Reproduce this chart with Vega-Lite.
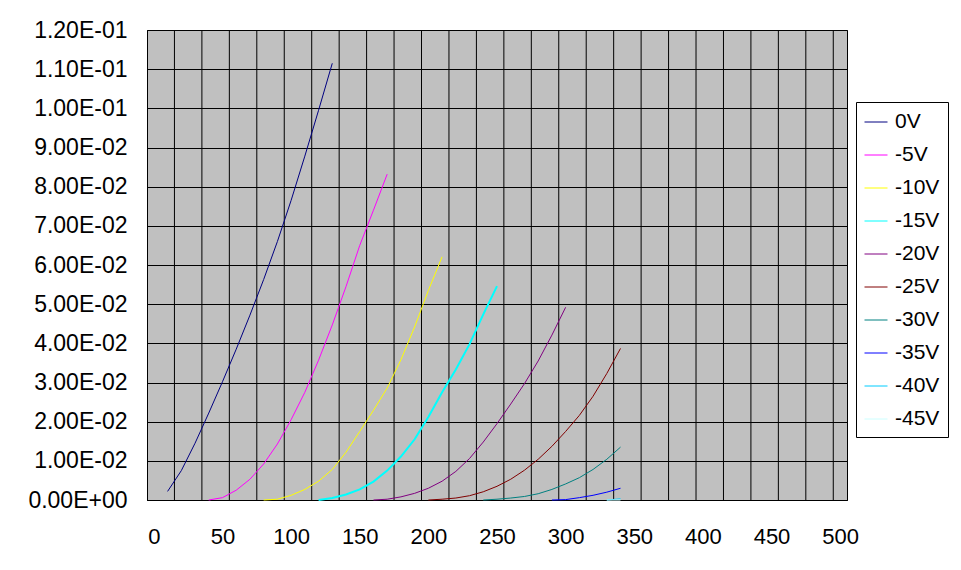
{
  "$schema": "https://vega.github.io/schema/vega-lite/v6.json",
  "width": 700,
  "height": 470,
  "autosize": {"type": "none"},
  "padding": {"left": 147, "top": 30, "right": 114, "bottom": 70},
  "background": "white",
  "config": {
    "view": {"fill": "#C0C0C0", "stroke": "black", "strokeWidth": 1},
    "font": "Liberation Sans",
    "axis": {"labelFont": "Liberation Sans", "labelColor": "black", "domainColor": "black", "domainWidth": 1, "ticks": false, "title": null, "labelFlush": false}
  },
  "datasets": {
    "grid": [
      {"V": 15}, {"V": 35}, {"V": 55}, {"V": 75}, {"V": 95}, {"V": 115}, {"V": 135}, {"V": 155}, {"V": 175}, {"V": 195},
      {"V": 215}, {"V": 235}, {"V": 255}, {"V": 275}, {"V": 295}, {"V": 315}, {"V": 335}, {"V": 355}, {"V": 375}, {"V": 395},
      {"V": 415}, {"V": 435}, {"V": 455}, {"V": 475}, {"V": 495}
    ],
    "curves": [
      {"s": "0V", "V": 10, "I": 0.0022}, {"s": "0V", "V": 20, "I": 0.0075}, {"s": "0V", "V": 30, "I": 0.0145}, {"s": "0V", "V": 40, "I": 0.0222},
      {"s": "0V", "V": 50, "I": 0.0302}, {"s": "0V", "V": 60, "I": 0.0385}, {"s": "0V", "V": 70, "I": 0.0472}, {"s": "0V", "V": 80, "I": 0.0563},
      {"s": "0V", "V": 90, "I": 0.066}, {"s": "0V", "V": 100, "I": 0.0765}, {"s": "0V", "V": 110, "I": 0.0878}, {"s": "0V", "V": 120, "I": 0.0995},
      {"s": "0V", "V": 130, "I": 0.1115},
      {"s": "-5V", "V": 40, "I": 0}, {"s": "-5V", "V": 50, "I": 0.0006}, {"s": "-5V", "V": 60, "I": 0.0025}, {"s": "-5V", "V": 70, "I": 0.0053},
      {"s": "-5V", "V": 80, "I": 0.0092}, {"s": "-5V", "V": 90, "I": 0.0143}, {"s": "-5V", "V": 100, "I": 0.0205}, {"s": "-5V", "V": 110, "I": 0.0275},
      {"s": "-5V", "V": 120, "I": 0.0357}, {"s": "-5V", "V": 130, "I": 0.0447}, {"s": "-5V", "V": 140, "I": 0.0545}, {"s": "-5V", "V": 150, "I": 0.065},
      {"s": "-5V", "V": 160, "I": 0.074}, {"s": "-5V", "V": 170, "I": 0.0832},
      {"s": "-10V", "V": 80, "I": 0}, {"s": "-10V", "V": 90, "I": 0.0002}, {"s": "-10V", "V": 100, "I": 0.0012}, {"s": "-10V", "V": 110, "I": 0.0027},
      {"s": "-10V", "V": 120, "I": 0.0048}, {"s": "-10V", "V": 130, "I": 0.0078}, {"s": "-10V", "V": 140, "I": 0.0122}, {"s": "-10V", "V": 150, "I": 0.0175},
      {"s": "-10V", "V": 160, "I": 0.0229}, {"s": "-10V", "V": 170, "I": 0.0286}, {"s": "-10V", "V": 180, "I": 0.0358}, {"s": "-10V", "V": 190, "I": 0.0442},
      {"s": "-10V", "V": 200, "I": 0.0535}, {"s": "-10V", "V": 210, "I": 0.0621},
      {"s": "-15V", "V": 120, "I": 0}, {"s": "-15V", "V": 130, "I": 0.0005}, {"s": "-15V", "V": 140, "I": 0.0014}, {"s": "-15V", "V": 150, "I": 0.0027},
      {"s": "-15V", "V": 160, "I": 0.0047}, {"s": "-15V", "V": 170, "I": 0.0075}, {"s": "-15V", "V": 180, "I": 0.0111}, {"s": "-15V", "V": 190, "I": 0.0155},
      {"s": "-15V", "V": 200, "I": 0.0212}, {"s": "-15V", "V": 210, "I": 0.0275}, {"s": "-15V", "V": 220, "I": 0.0333}, {"s": "-15V", "V": 230, "I": 0.0398},
      {"s": "-15V", "V": 240, "I": 0.0474}, {"s": "-15V", "V": 250, "I": 0.0546},
      {"s": "-20V", "V": 160, "I": 0}, {"s": "-20V", "V": 170, "I": 0.0002}, {"s": "-20V", "V": 180, "I": 0.0008}, {"s": "-20V", "V": 190, "I": 0.0017},
      {"s": "-20V", "V": 200, "I": 0.003}, {"s": "-20V", "V": 210, "I": 0.0048}, {"s": "-20V", "V": 220, "I": 0.0073}, {"s": "-20V", "V": 230, "I": 0.0106},
      {"s": "-20V", "V": 240, "I": 0.0148}, {"s": "-20V", "V": 250, "I": 0.0195}, {"s": "-20V", "V": 260, "I": 0.0245}, {"s": "-20V", "V": 270, "I": 0.0297},
      {"s": "-20V", "V": 280, "I": 0.0355}, {"s": "-20V", "V": 290, "I": 0.0421}, {"s": "-20V", "V": 300, "I": 0.0492},
      {"s": "-25V", "V": 200, "I": 0}, {"s": "-25V", "V": 210, "I": 0.0002}, {"s": "-25V", "V": 220, "I": 0.0005}, {"s": "-25V", "V": 230, "I": 0.0011},
      {"s": "-25V", "V": 240, "I": 0.0021}, {"s": "-25V", "V": 250, "I": 0.0035}, {"s": "-25V", "V": 260, "I": 0.0053}, {"s": "-25V", "V": 270, "I": 0.0076},
      {"s": "-25V", "V": 280, "I": 0.0104}, {"s": "-25V", "V": 290, "I": 0.0137}, {"s": "-25V", "V": 300, "I": 0.0175}, {"s": "-25V", "V": 310, "I": 0.0216},
      {"s": "-25V", "V": 320, "I": 0.0265}, {"s": "-25V", "V": 330, "I": 0.0323}, {"s": "-25V", "V": 340, "I": 0.0387},
      {"s": "-30V", "V": 240, "I": 0}, {"s": "-30V", "V": 250, "I": 0.0002}, {"s": "-30V", "V": 260, "I": 0.0005}, {"s": "-30V", "V": 270, "I": 0.0009},
      {"s": "-30V", "V": 280, "I": 0.0016}, {"s": "-30V", "V": 290, "I": 0.0027}, {"s": "-30V", "V": 300, "I": 0.0041}, {"s": "-30V", "V": 310, "I": 0.0057},
      {"s": "-30V", "V": 320, "I": 0.0078}, {"s": "-30V", "V": 330, "I": 0.0104}, {"s": "-30V", "V": 340, "I": 0.0135},
      {"s": "-35V", "V": 290, "I": 0}, {"s": "-35V", "V": 300, "I": 0.0001}, {"s": "-35V", "V": 310, "I": 0.0006}, {"s": "-35V", "V": 320, "I": 0.0012},
      {"s": "-35V", "V": 330, "I": 0.002}, {"s": "-35V", "V": 340, "I": 0.003},
      {"s": "-40V", "V": 330, "I": 0}, {"s": "-40V", "V": 340, "I": 0.0003},
      {"s": "-45V", "V": 330, "I": 0}, {"s": "-45V", "V": 340, "I": 0}
    ]
  },
  "encoding": {
    "x": {
      "field": "V",
      "type": "quantitative",
      "scale": {"domain": [-5, 505], "nice": false, "zero": false},
      "axis": {
        "values": [0, 50, 100, 150, 200, 250, 300, 350, 400, 450, 500],
        "grid": false,
        "labelFontSize": 22,
        "labelPadding": 26
      }
    }
  },
  "layer": [
    {
      "data": {"name": "grid"},
      "mark": {"type": "rule", "color": "black", "strokeWidth": 1}
    },
    {
      "data": {"name": "curves"},
      "mark": {"type": "line", "interpolate": "linear"},
      "encoding": {
        "y": {
          "field": "I",
          "type": "quantitative",
          "scale": {"domain": [0, 0.12], "nice": false, "zero": true},
          "axis": {
            "values": [0, 0.01, 0.02, 0.03, 0.04, 0.05, 0.06, 0.07, 0.08, 0.09, 0.1, 0.11, 0.12],
            "grid": true,
            "gridColor": "black",
            "gridOpacity": 1,
            "gridWidth": 1,
            "labelFontSize": 23,
            "labelPadding": 20,
            "labelExpr": "datum.value < 1e-9 ? '0.00E+00' : format(datum.value / pow(10, floor(log(datum.value) / LN10 + 1e-9)), '.2f') + 'E-' + format(-floor(log(datum.value) / LN10 + 1e-9), '02d')"
          }
        },
        "color": {
          "field": "s",
          "type": "nominal",
          "scale": {
            "domain": ["0V", "-5V", "-10V", "-15V", "-20V", "-25V", "-30V", "-35V", "-40V", "-45V"],
            "range": ["#000080", "#FF00FF", "#FFFF00", "#00FFFF", "#800080", "#800000", "#008080", "#0000FF", "#00CCFF", "#CCFFFF"]
          },
          "legend": {
            "orient": "none",
            "legendX": 709,
            "legendY": 72,
            "direction": "vertical",
            "title": null,
            "fillColor": "white",
            "strokeColor": "black",
            "padding": 8,
            "symbolType": "stroke",
            "symbolSize": 529,
            "symbolStrokeWidth": 1,
            "labelFont": "Liberation Sans",
            "labelFontSize": 21,
            "labelColor": "black",
            "labelOffset": 7,
            "rowPadding": 11
          }
        },
        "strokeWidth": {"condition": {"test": "datum.s === '-15V'", "value": 2}, "value": 1}
      }
    }
  ]
}
